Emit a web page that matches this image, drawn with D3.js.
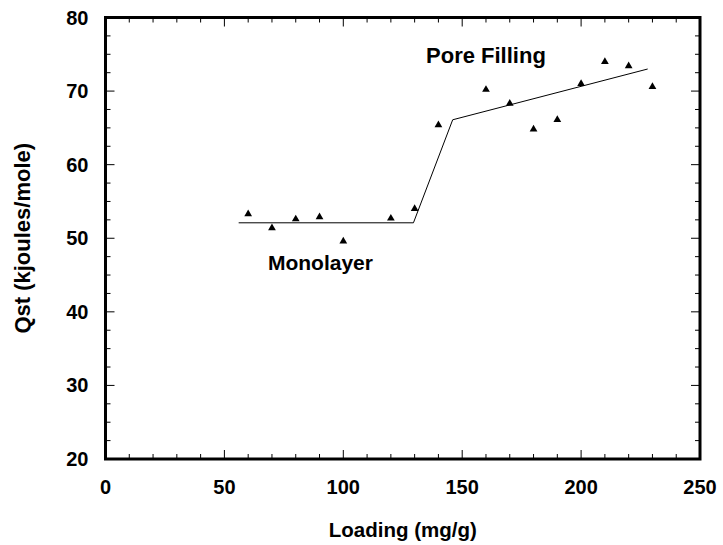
<!DOCTYPE html>
<html>
<head>
<meta charset="utf-8">
<script src="https://cdn.jsdelivr.net/npm/d3@7"></script>
<style>
  body { margin: 0; background: #fff; }
  svg { display: block; font-family: "Liberation Sans", Arial, sans-serif; font-weight: bold; }
</style>
</head>
<body>
<div id="chart"></div>
<script>
// Measured points (loading mg/g, Qst kJ/mol)
const loading = [60, 70, 80, 90, 100, 120, 130, 140, 160, 170, 180, 190, 200, 210, 220, 230];
const qst = [53.3, 51.4, 52.6, 52.9, 49.6, 52.7, 54.0, 65.4, 70.2, 68.3, 64.8, 66.1, 71.0, 74.0, 73.4, 70.6];

// Fitted piecewise line
const fitX = [56, 129.5, 146, 228];
const fitY = [52.1, 52.1, 66.1, 73.0];

const xTicks = [0, 50, 100, 150, 200, 250];
const yTicks = [20, 30, 40, 50, 60, 70, 80];

const labels = [
  { text: 'Pore Filling', x: 134.8, y: 73.8, size: 22 },
  { text: 'Monolayer', x: 68.3, y: 45.7, size: 21 }
];

const width = 723, height = 545;
const margin = { top: 17.5, right: 23, bottom: 86, left: 105.5 };

const svg = d3.select('#chart').append('svg')
  .attr('width', width)
  .attr('height', height);

const x = d3.scaleLinear().domain([0, 250]).range([margin.left, width - margin.right]);
const y = d3.scaleLinear().domain([20, 80]).range([height - margin.bottom, margin.top]);

// -------- Inward ticks on all four sides --------
const xMinor = d3.range(0, 251, 10);
const yMinor = d3.range(20, 80.1, 2.5);
const tickG = svg.append('g').attr('stroke', '#000').attr('stroke-width', 1);
const isMajorX = v => v % 50 === 0;
const isMajorY = v => v % 10 === 0;

xMinor.forEach(v => {
  const len = isMajorX(v) ? 9 : 5;
  tickG.append('line').attr('x1', x(v)).attr('x2', x(v)).attr('y1', y(20)).attr('y2', y(20) - len);
  tickG.append('line').attr('x1', x(v)).attr('x2', x(v)).attr('y1', y(80)).attr('y2', y(80) + len);
});
yMinor.forEach(v => {
  const len = isMajorY(v) ? 9 : 5;
  tickG.append('line').attr('x1', x(0)).attr('x2', x(0) + len).attr('y1', y(v)).attr('y2', y(v));
  tickG.append('line').attr('x1', x(250)).attr('x2', x(250) - len).attr('y1', y(v)).attr('y2', y(v));
});

// -------- Frame --------
svg.append('rect')
  .attr('x', x(0)).attr('y', y(80))
  .attr('width', x(250) - x(0)).attr('height', y(20) - y(80))
  .attr('fill', 'none').attr('stroke', '#000').attr('stroke-width', 3);

// -------- Tick labels --------
svg.append('g').selectAll('text').data(xTicks).join('text')
  .attr('x', d => x(d)).attr('y', y(20) + 35)
  .attr('text-anchor', 'middle').attr('font-size', 20)
  .text(d => d);

svg.append('g').selectAll('text').data(yTicks).join('text')
  .attr('x', x(0) - 17).attr('y', d => y(d) + 7)
  .attr('text-anchor', 'end').attr('font-size', 20)
  .text(d => d);

// -------- Axis titles --------
svg.append('text')
  .attr('x', (x(0) + x(250)) / 2).attr('y', 537)
  .attr('text-anchor', 'middle').attr('font-size', 20.5)
  .text('Loading (mg/g)');

svg.append('text')
  .attr('transform', `translate(30,${(y(20) + y(80)) / 2}) rotate(-90)`)
  .attr('text-anchor', 'middle').attr('font-size', 22)
  .text('Qst (kjoules/mole)');

// -------- Fit line --------
const fit = fitX.map((v, i) => [v, fitY[i]]);
svg.append('path')
  .datum(fit)
  .attr('fill', 'none').attr('stroke', '#000').attr('stroke-width', 1)
  .attr('d', d3.line().x(d => x(d[0])).y(d => y(d[1])));

// -------- Points --------
svg.append('g').selectAll('path').data(loading).join('path')
  .attr('transform', (d, i) => `translate(${x(d)},${y(qst[i])})`)
  .attr('d', d3.symbol().type(d3.symbolTriangle).size(26))
  .attr('fill', '#000');

// -------- Annotations --------
svg.append('g').selectAll('text').data(labels).join('text')
  .attr('x', d => x(d.x)).attr('y', d => y(d.y))
  .attr('font-size', d => d.size)
  .text(d => d.text);
</script>
</body>
</html>
